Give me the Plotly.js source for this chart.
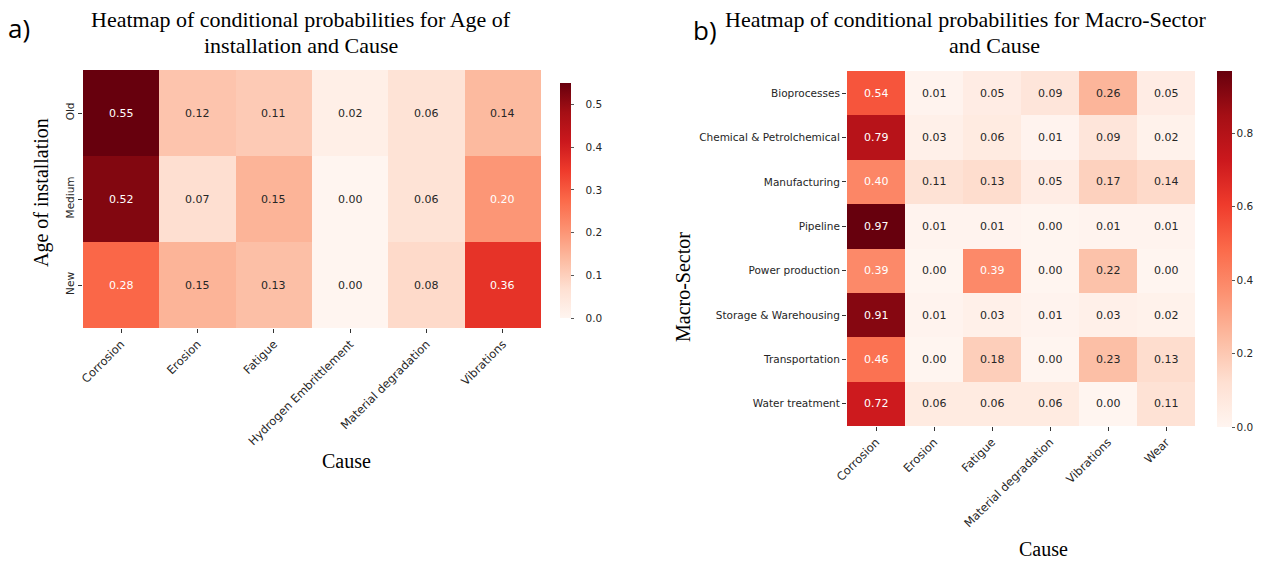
<!DOCTYPE html>
<html>
<head>
<meta charset="utf-8">
<script src="https://cdn.plot.ly/plotly-3.0.1.min.js"></script>
<style>html,body{margin:0;padding:0;background:#fff;}#chart{width:1267px;height:562px;}</style>
</head>
<body>
<div id="chart"></div>
<script>
// ---- Data: panel a ----
const causesA = ["Corrosion", "Erosion", "Fatigue", "Hydrogen Embrittlement", "Material degradation", "Vibrations"];
const agesA = ["Old", "Medium", "New"];
const ageOld = [0.55, 0.12, 0.11, 0.02, 0.06, 0.14];
const ageMedium = [0.52, 0.07, 0.15, 0.00, 0.06, 0.20];
const ageNew = [0.28, 0.15, 0.13, 0.00, 0.08, 0.36];
const ticksA = [0, 0.1, 0.2, 0.3, 0.4, 0.5];
const tickLabelsA = ["0.0", "0.1", "0.2", "0.3", "0.4", "0.5"];

// ---- Data: panel b ----
const causesB = ["Corrosion", "Erosion", "Fatigue", "Material degradation", "Vibrations", "Wear"];
const sectorsB = ["Bioprocesses", "Chemical & Petrolchemical", "Manufacturing", "Pipeline", "Power production", "Storage & Warehousing", "Transportation", "Water treatment"];
const bioprocesses = [0.54, 0.01, 0.05, 0.09, 0.26, 0.05];
const chemical = [0.79, 0.03, 0.06, 0.01, 0.09, 0.02];
const manufacturing = [0.40, 0.11, 0.13, 0.05, 0.17, 0.14];
const pipeline = [0.97, 0.01, 0.01, 0.00, 0.01, 0.01];
const power = [0.39, 0.00, 0.39, 0.00, 0.22, 0.00];
const storage = [0.91, 0.01, 0.03, 0.01, 0.03, 0.02];
const transportation = [0.46, 0.00, 0.18, 0.00, 0.23, 0.13];
const water = [0.72, 0.06, 0.06, 0.06, 0.00, 0.11];
const ticksB = [0, 0.2, 0.4, 0.6, 0.8];
const tickLabelsB = ["0.0", "0.2", "0.4", "0.6", "0.8"];

const zA = [ageOld, ageMedium, ageNew];
const zB = [bioprocesses, chemical, manufacturing, pipeline, power, storage, transportation, water];

// matplotlib "Reds"
const reds = [
  [0.0, "#fff5f0"], [0.125, "#fee0d2"], [0.25, "#fcbba1"], [0.375, "#fc9272"],
  [0.5, "#fb6a4a"], [0.625, "#ef3b2c"], [0.75, "#cb181d"], [0.875, "#a50f15"], [1.0, "#67000d"]
];

const W = 1267, H = 562;
const px = v => v / W;
const py = v => 1 - v / H;

const tickFont = {family: "DejaVu Sans, sans-serif", size: 10.5, color: "#262626"};
const xTickFont = {family: "DejaVu Sans, sans-serif", size: 11.5, color: "#262626"};
const serif = "Liberation Serif, Times New Roman, serif";
const pad = "\u00a0\u00a0\u00a0";

function cellAnnotations(z, xs, ys, zmax, xr, yr) {
  const out = [];
  for (let i = 0; i < ys.length; i++) {
    for (let j = 0; j < xs.length; j++) {
      const v = z[i][j];
      out.push({
        x: xs[j], y: ys[i], xref: xr, yref: yr, text: v.toFixed(2), showarrow: false,
        font: {family: "DejaVu Sans, sans-serif", size: 11, color: (v / zmax > 0.35) ? "#ffffff" : "#262626"}
      });
    }
  }
  return out;
}

const zmaxA = 0.55, zmaxB = 0.97;

const traces = [
  {
    type: "heatmap", z: zA, x: causesA, y: agesA, xaxis: "x", yaxis: "y",
    zmin: 0, zmax: zmaxA, colorscale: reds, hoverinfo: "skip",
    colorbar: {
      x: px(560), xanchor: "left", thickness: 11, len: (318 - 83) / H, lenmode: "fraction",
      y: py(200.5), yanchor: "middle", outlinewidth: 0, ticks: "outside", ticklen: 3,
      tickcolor: "#555", tickvals: ticksA, ticktext: tickLabelsA.map(t => pad + t), tickfont: tickFont, xpad: 0, ypad: 0
    }
  },
  {
    type: "heatmap", z: zB, x: causesB, y: sectorsB, xaxis: "x2", yaxis: "y2",
    zmin: 0, zmax: zmaxB, colorscale: reds, hoverinfo: "skip",
    colorbar: {
      x: px(1217), xanchor: "left", thickness: 15, len: (427 - 71) / H, lenmode: "fraction",
      y: py(249), yanchor: "middle", outlinewidth: 0, ticks: "outside", ticklen: 3,
      tickcolor: "#555", tickvals: ticksB, ticktext: tickLabelsB, tickfont: tickFont, xpad: 0, ypad: 0
    }
  }
];

const axisCommon = {
  type: "category", showgrid: false, zeroline: false, showline: false, automargin: false,
  ticks: "outside", ticklen: 4, tickcolor: "#333", tickfont: tickFont
};

const titleFont = {family: serif, size: 22, color: "#000"};
const axTitleFont = {family: serif, size: 20, color: "#000"};

const annotations = [].concat(
  cellAnnotations(zA, causesA, agesA, zmaxA, "x", "y"),
  cellAnnotations(zB, causesB, sectorsB, zmaxB, "x2", "y2"),
  [
    {xref: "paper", yref: "paper", x: px(301), y: py(20), text: "Heatmap of conditional probabilities for Age of", showarrow: false, xanchor: "center", yanchor: "middle", font: titleFont},
    {xref: "paper", yref: "paper", x: px(301), y: py(46), text: "installation and Cause", showarrow: false, xanchor: "center", yanchor: "middle", font: titleFont},
    {xref: "paper", yref: "paper", x: px(965), y: py(20), text: "Heatmap of conditional probabilities for Macro-Sector", showarrow: false, xanchor: "center", yanchor: "middle", font: titleFont},
    {xref: "paper", yref: "paper", x: px(994), y: py(46), text: "and Cause", showarrow: false, xanchor: "center", yanchor: "middle", font: titleFont},
    {xref: "paper", yref: "paper", x: px(41), y: py(192), text: "Age of installation", textangle: -90, showarrow: false, xanchor: "center", yanchor: "middle", font: axTitleFont},
    {xref: "paper", yref: "paper", x: px(346), y: py(461), text: "Cause", showarrow: false, xanchor: "center", yanchor: "middle", font: axTitleFont},
    {xref: "paper", yref: "paper", x: px(683), y: py(287), text: "Macro-Sector", textangle: -90, showarrow: false, xanchor: "center", yanchor: "middle", font: axTitleFont},
    {xref: "paper", yref: "paper", x: px(1043), y: py(549), text: "Cause", showarrow: false, xanchor: "center", yanchor: "middle", font: axTitleFont},
    {xref: "paper", yref: "paper", x: px(19), y: py(28), text: "a)", showarrow: false, xanchor: "center", yanchor: "middle", font: {family: "Open Sans, sans-serif", size: 26, color: "#000"}},
    {xref: "paper", yref: "paper", x: px(705), y: py(30), text: "b)", showarrow: false, xanchor: "center", yanchor: "middle", font: {family: "Open Sans, sans-serif", size: 26, color: "#000"}}
  ]
);

const layout = {
  width: W, height: H,
  margin: {l: 0, r: 0, t: 0, b: 0},
  paper_bgcolor: "#ffffff", plot_bgcolor: "#ffffff",
  showlegend: false,
  xaxis: Object.assign({}, axisCommon, {domain: [px(83), px(541)], anchor: "y", tickangle: -45, tickfont: xTickFont}),
  yaxis: Object.assign({}, axisCommon, {domain: [py(328), py(70)], anchor: "x", autorange: "reversed", tickangle: -90}),
  xaxis2: Object.assign({}, axisCommon, {domain: [px(847), px(1195)], anchor: "y2", tickangle: -45, tickfont: xTickFont}),
  yaxis2: Object.assign({}, axisCommon, {domain: [py(426), py(71)], anchor: "x2", autorange: "reversed"}),
  annotations: annotations
};

Plotly.newPlot("chart", traces, layout, {staticPlot: true, displayModeBar: false});
</script>
</body>
</html>
